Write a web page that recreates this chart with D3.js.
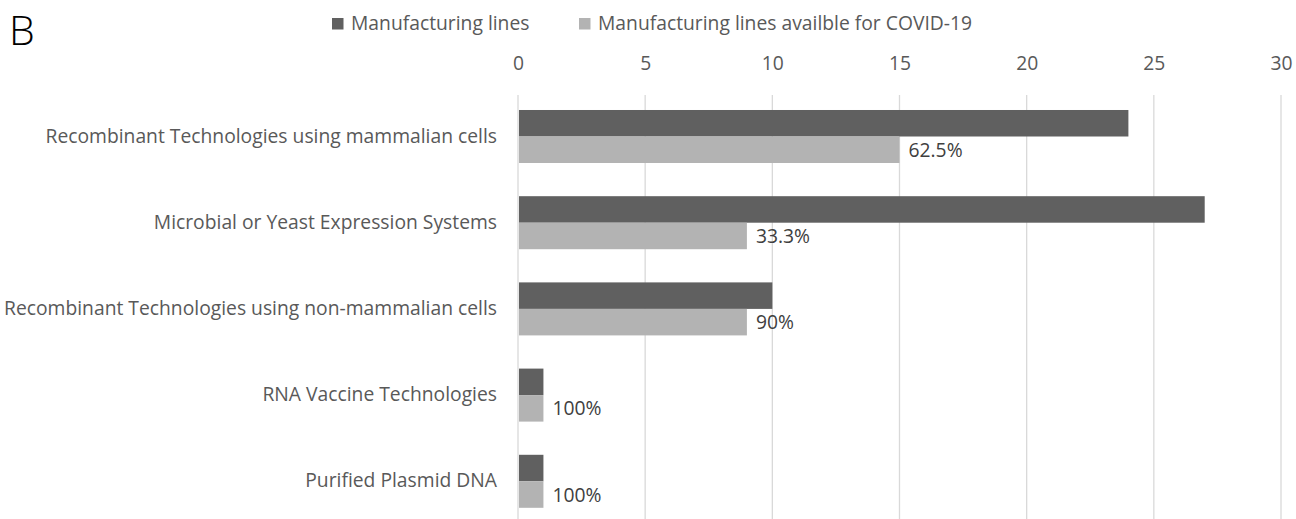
<!DOCTYPE html>
<html><head><meta charset="utf-8">
<script src="https://cdn.jsdelivr.net/npm/d3@7"></script>
<style>body{margin:0;background:#fff}svg{display:block}</style>
</head><body><svg id="c" width="1296" height="519"></svg>
<script>
const categories = ["Recombinant Technologies using mammalian cells","Microbial or Yeast Expression Systems","Recombinant Technologies using non-mammalian cells","RNA Vaccine Technologies","Purified Plasmid DNA"];
const seriesNames = ["Manufacturing lines","Manufacturing lines availble for COVID-19"];
const totalLines = [24,27,10,1,1];
const covidLines = [15,9,9,1,1];
const pctLabels = ["62.5%","33.3%","90%","100%","100%"];
const xTicks = [0,5,10,15,20,25,30];

const svg = d3.select("#c");
const font = "'Open Sans', 'Noto Sans', sans-serif";
const fs = 19.3;
const textCol = "#595959";
const colors = ["#606060","#b3b3b3"];

const x = d3.scaleLinear().domain([0,30]).range([518,1281]);
const y = d3.scaleBand().domain(categories).range([93.4,524.4]).paddingInner(0.385).paddingOuter(0.1925);
const sub = d3.scaleBand().domain([0,1]).range([0,y.bandwidth()]);

// gridlines
svg.append("g").selectAll("line").data(xTicks).join("line")
  .attr("x1",d=>x(d)).attr("x2",d=>x(d)).attr("y1",95).attr("y2",519)
  .attr("stroke","#d9d9d9").attr("stroke-width",1.3);

// axis top
const ax = svg.append("g").attr("transform","translate(0,78)")
  .call(d3.axisTop(x).tickValues(xTicks).tickSize(0).tickPadding(8));
ax.select(".domain").remove();
ax.selectAll("text").attr("font-family",font).attr("font-size",fs).attr("fill",textCol);

// bars
const g = svg.append("g");
categories.forEach((c,i)=>{
  [totalLines[i],covidLines[i]].forEach((v,j)=>{
    g.append("rect").attr("x",x(0)+1).attr("y",y(c)+sub(j))
      .attr("width",x(v)-x(0)-1).attr("height",sub.bandwidth())
      .attr("fill",colors[j]);
  });
  g.append("text").attr("x",x(covidLines[i])+9).attr("y",y(c)+sub(1)+sub.bandwidth()/2)
    .attr("dy","0.36em").attr("font-family",font).attr("font-size",fs).attr("fill","#404040")
    .text(pctLabels[i]);
});

// category labels
const ay = svg.append("g").attr("transform","translate(518,0)")
  .call(d3.axisLeft(y).tickSize(0).tickPadding(21));
ay.select(".domain").remove();
ay.selectAll("text").attr("font-family",font).attr("font-size",fs).attr("fill",textCol);

// legend
const legX = [332,579];
seriesNames.forEach((s,i)=>{
  svg.append("rect").attr("x",legX[i]).attr("y",18).attr("width",11.5).attr("height",11.5).attr("fill",colors[i]);
  svg.append("text").attr("x",legX[i]+19).attr("y",23.5).attr("dy","0.36em")
    .attr("font-family",font).attr("font-size",fs).attr("fill",textCol).text(s);
});

// panel letter
svg.append("text").attr("x",9).attr("y",45).attr("font-family",font).attr("font-weight",300)
  .attr("font-size",41).attr("fill","#000").text("B");
</script></body></html>
